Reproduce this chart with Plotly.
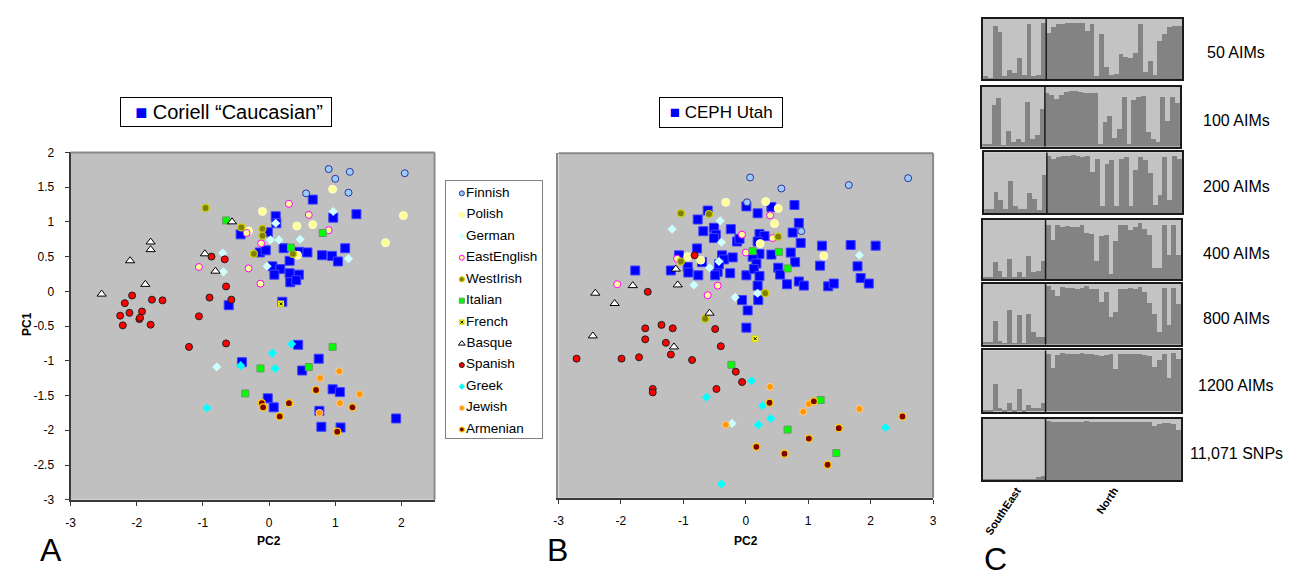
import plotly.graph_objects as go

W, H = 1309, 577

# ---------------------------------------------------------------- data
groups = ["Finnish", "Polish", "German", "EastEnglish", "WestIrish", "Italian",
          "French", "Basque", "Spanish", "Greek", "Jewish", "Armenian"]

# Panel A: Coriell "Caucasian" samples projected with reference groups (PC2, PC1)
coriell_a = [(-0.43, 0.82), (-0.14, 0.56), (-0.61, -0.20), (0.66, 1.32), (0.10, 1.08),
             (0.97, 1.06), (1.32, 1.11), (0.11, 0.98), (-0.02, 0.85), (-0.05, 0.59),
             (0.22, 0.62), (0.45, 0.57), (0.58, 0.56), (0.80, 0.52), (0.95, 0.51),
             (1.04, 0.43), (1.15, 0.62), (0.31, 0.44), (0.05, 0.36), (0.17, 0.32),
             (0.08, 0.24), (0.31, 0.26), (0.45, 0.24), (0.32, 0.13), (0.41, 0.16),
             (0.20, -0.15), (0.44, -0.77), (0.75, -0.97), (0.50, -1.14), (0.96, -1.41),
             (1.07, -1.45), (-0.02, -1.54), (0.07, -1.67), (0.76, -1.72), (0.79, -1.95),
             (1.08, -1.96), (1.92, -1.83), (-0.41, -1.02)]
finnish_a = [(0.90, 1.76), (1.22, 1.72), (1.00, 1.62), (2.05, 1.70), (0.56, 1.41), (1.20, 1.42)]
polish_a = [(0.96, 1.47), (2.03, 1.09), (1.76, 0.70), (-0.10, 1.15), (0.42, 0.94),
            (0.66, 0.96), (0.43, 0.52), (-0.31, 0.87)]
german_a = [(0.97, 1.15), (0.10, 0.98), (0.02, 0.74), (0.15, 0.74), (0.47, 0.75),
            (1.20, 0.47), (-0.03, 0.36), (-0.70, 0.55), (-0.69, 0.28), (-0.79, -1.09)]
eastenglish_a = [(0.30, 1.26), (0.60, 1.10), (0.90, 0.88), (-0.12, 0.69), (-0.13, 0.11),
                 (-0.34, 0.84), (-1.06, 0.35), (-0.31, 0.33)]
westirish_a = [(-0.96, 1.20), (-0.42, 0.92), (-0.10, 0.90), (-0.10, 0.80), (-0.23, 0.54), (0.36, 0.54)]
italian_a = [(-0.65, 1.02), (0.81, 0.84), (0.33, 0.63), (0.96, -0.80), (0.60, -1.09),
             (-0.13, -1.11), (-0.36, -1.47)]
french_a = [(0.18, -0.18)]
basque_a = [(-0.56, 1.00), (-1.79, 0.71), (-1.79, 0.60), (-2.10, 0.44), (-0.97, 0.54),
            (-0.81, 0.29), (-1.87, 0.10), (-2.53, -0.04)]
spanish_a = [(-0.87, 0.50), (-0.67, 0.46), (-0.65, 0.07), (-0.57, -0.12), (-0.90, -0.09),
             (-1.06, -0.36), (-2.07, -0.06), (-2.18, -0.17), (-1.77, -0.12), (-1.61, -0.13),
             (-2.25, -0.35), (-2.11, -0.31), (-1.92, -0.29), (-1.96, -0.40), (-1.95, -0.38),
             (-2.21, -0.49), (-1.79, -0.48), (-1.21, -0.80), (-0.65, -0.75)]
greek_a = [(-0.43, -1.07), (-0.94, -1.68), (0.34, -0.76), (0.05, -0.89), (0.09, -1.11)]
jewish_a = [(1.06, -1.15), (0.77, -1.25), (1.37, -1.48), (1.07, -1.61), (0.76, -1.75)]
armenian_a = [(0.71, -1.42), (0.30, -1.61), (-0.11, -1.61), (-0.09, -1.67), (0.16, -1.80),
              (1.26, -1.67), (1.03, -2.02)]

# Panel B: CEPH Utah samples projected with the same reference groups
cephutah_b = [(-0.61, 1.17), (-0.77, 1.04), (-0.68, 0.87), (-0.51, 0.92), (-0.48, 0.82),
              (-0.51, 0.77), (-0.24, 0.90), (-0.14, 0.72), (-0.10, 0.76), (0.01, 1.23),
              (-0.78, 0.62), (-1.07, 0.52), (-0.70, 0.42), (-0.38, 0.52), (-0.35, 0.46),
              (-0.21, 0.49), (-0.93, 0.35), (-0.92, 0.27), (-0.76, 0.23), (-0.45, 0.28),
              (-0.49, 0.23), (-0.25, 0.26), (0.01, 0.23), (-1.77, 0.30), (-1.20, 0.30),
              (-0.06, -0.13), (0.03, -0.28), (0.01, -0.53), (-0.43, 0.39), (0.41, 1.22),
              (0.78, 1.25), (0.19, 1.13), (0.85, 0.99), (0.75, 0.85), (0.22, 0.83),
              (0.30, 0.80), (0.19, 0.72), (0.88, 0.70), (1.22, 0.66), (1.68, 0.67),
              (2.08, 0.66), (0.22, 0.54), (0.41, 0.53), (0.72, 0.56), (0.11, 0.50),
              (0.17, 0.40), (0.79, 0.42), (1.19, 0.37), (1.79, 0.36), (0.13, 0.32),
              (0.52, 0.34), (0.22, 0.22), (0.55, 0.24), (1.84, 0.19), (1.97, 0.11),
              (0.66, 0.10), (0.85, 0.14), (0.93, 0.08), (1.32, 0.07), (1.41, 0.11),
              (0.19, 0.08), (0.20, -0.13)]
finnish_b = [(0.07, 1.65), (0.57, 1.49), (1.65, 1.54), (2.60, 1.64), (0.02, 1.29), (0.89, 0.87)]
polish_b = [(-0.32, 1.29), (-0.93, 0.50), (-0.72, 0.45), (0.32, 1.30), (0.52, 1.20),
            (0.46, 0.98), (0.23, 0.69), (1.25, 0.51)]
german_b = [(-0.41, 1.02), (-1.18, 0.90), (-0.39, 0.71), (-0.58, 0.34), (-0.43, 0.43),
            (-0.83, 0.09), (-0.17, -0.09), (1.82, 0.52), (0.19, -0.03), (-0.22, -1.92)]
eastenglish_b = [(-0.06, 0.82), (0.00, 0.56), (-1.10, 0.47), (-2.06, 0.10), (-0.45, 0.08),
                 (-0.61, -0.06), (0.39, 1.10), (0.43, 0.77)]
westirish_b = [(-1.04, 1.13), (-0.59, 1.12), (-1.04, 0.43), (-0.65, -0.40), (0.52, 0.79), (0.31, -0.03)]
italian_b = [(0.11, 0.58), (0.53, 0.57), (0.67, 0.33), (-0.23, -1.07), (1.20, -1.58),
             (0.67, -2.01), (1.45, -2.35)]
french_b = [(0.15, -0.69)]
basque_b = [(-1.12, 0.32), (-1.81, 0.08), (-1.09, 0.09), (-2.41, -0.03), (-2.10, -0.18),
            (-0.58, -0.32), (-2.45, -0.65), (-1.15, -0.81)]
spanish_b = [(-0.82, 0.52), (-1.57, -0.01), (-1.61, -0.54), (-1.35, -0.49), (-1.17, -0.54),
             (-0.49, -0.55), (-1.61, -0.70), (-1.28, -0.75), (-0.40, -0.80), (-1.20, -0.92),
             (-2.71, -0.98), (-1.99, -0.98), (-1.71, -0.96), (-0.86, -1.00), (-0.16, -1.17),
             (-0.06, -1.32), (-1.49, -1.42), (-1.49, -1.47), (-0.47, -1.42)]
greek_b = [(-0.63, -1.54), (-0.39, -2.80), (0.09, -1.30), (0.27, -1.66), (0.40, -1.85),
           (0.20, -1.94), (2.24, -1.98)]
jewish_b = [(-0.32, -1.94), (0.39, -1.39), (1.01, -1.64), (0.92, -1.75), (1.82, -1.71)]
armenian_b = [(0.38, -1.62), (1.09, -1.60), (2.51, -1.82), (1.49, -1.99), (1.01, -2.14),
              (0.17, -2.26), (0.62, -2.36), (1.31, -2.52)]

# Panel C: STRUCTURE membership in the "North" cluster per individual
c_labels = ["50 AIMs", "100 AIMs", "200 AIMs", "400 AIMs", "800 AIMs", "1200 AIMs", "11,071 SNPs"]
c_groups = ["SouthEast", "North"]
southeast_q = [
    [0.05, 0.03, 0.89, 0.79, 0.05, 0.16, 0.11, 0.36, 0.08, 0.91, 0.05, 0.08, 0.93],
    [0.04, 0.04, 0.70, 0.81, 0.02, 0.26, 0.07, 0.13, 0.07, 0.74, 0.12, 0.19, 0.63],
    [0.05, 0.05, 0.34, 0.20, 0.05, 0.52, 0.10, 0.05, 0.05, 0.32, 0.23, 0.04, 0.62],
    [0.04, 0.04, 0.29, 0.15, 0.04, 0.35, 0.04, 0.13, 0.04, 0.40, 0.12, 0.15, 0.31],
    [0.04, 0.04, 0.39, 0.06, 0.03, 0.57, 0.03, 0.48, 0.03, 0.50, 0.20, 0.13, 0.13],
    [0.03, 0.03, 0.44, 0.06, 0.03, 0.14, 0.03, 0.37, 0.03, 0.10, 0.05, 0.06, 0.14],
    [0.02, 0.03, 0.02, 0.02, 0.02, 0.02, 0.02, 0.02, 0.02, 0.02, 0.02, 0.06, 0.08],
]
north_q = [
    [0.77, 0.86, 0.91, 0.92, 0.93, 0.93, 0.94, 0.93, 0.80, 0.92, 0.05, 0.75, 0.20, 0.08,
     0.09, 0.42, 0.38, 0.36, 0.44, 0.91, 0.12, 0.31, 0.08, 0.63, 0.76, 0.86, 0.88, 0.89],
    [0.90, 0.87, 0.80, 0.87, 0.91, 0.93, 0.93, 0.91, 0.90, 0.90, 0.90, 0.04, 0.41, 0.51,
     0.15, 0.30, 0.83, 0.04, 0.78, 0.83, 0.85, 0.24, 0.12, 0.08, 0.83, 0.43, 0.83, 0.73],
    [0.94, 0.88, 0.91, 0.93, 0.93, 0.95, 0.93, 0.91, 0.93, 0.67, 0.88, 0.11, 0.80, 0.86,
     0.11, 0.88, 0.91, 0.11, 0.70, 0.92, 0.86, 0.65, 0.12, 0.29, 0.92, 0.20, 0.93, 0.88],
    [0.92, 0.67, 0.92, 0.89, 0.90, 0.89, 0.89, 0.92, 0.78, 0.77, 0.31, 0.73, 0.74, 0.09,
     0.64, 0.92, 0.92, 0.84, 0.89, 0.95, 0.85, 0.74, 0.20, 0.20, 0.92, 0.42, 0.92, 0.42],
    [0.97, 0.90, 0.80, 0.95, 0.93, 0.93, 0.92, 0.93, 0.97, 0.92, 0.92, 0.71, 0.87, 0.46,
     0.53, 0.92, 0.92, 0.93, 0.92, 0.95, 0.87, 0.68, 0.50, 0.20, 0.93, 0.33, 0.93, 0.67],
    [0.93, 0.71, 0.92, 0.95, 0.94, 0.94, 0.94, 0.95, 0.94, 0.93, 0.92, 0.90, 0.92, 0.93,
     0.69, 0.94, 0.94, 0.93, 0.94, 0.94, 0.92, 0.90, 0.72, 0.83, 0.94, 0.55, 0.95, 0.85],
    [0.96, 0.95, 0.95, 0.95, 0.95, 0.95, 0.95, 0.95, 0.96, 0.95, 0.95, 0.95, 0.95, 0.95,
     0.95, 0.95, 0.95, 0.95, 0.95, 0.95, 0.95, 0.95, 0.88, 0.92, 0.93, 0.94, 0.92, 0.82],
]

# ---------------------------------------------------------------- styles
FONT = "Liberation Sans, Arial, sans-serif"
PLOT_BG = "#c0c0c0"
DARK_Q = "#838383"
LIGHT_Q = "#c3c3c3"

STYLE = {
    "Finnish":     dict(symbol="circle", size=7, color="#99ccff", line=dict(color="#333399", width=1)),
    "Polish":      dict(symbol="circle", size=8, color="#ffff99", line=dict(color="#ffffcc", width=1)),
    "German":      dict(symbol="diamond", size=7, color="#ccffff", line=dict(width=0)),
    "EastEnglish": dict(symbol="circle", size=7, color="#ffff99", line=dict(color="#ff00ff", width=1)),
    "WestIrish":   dict(symbol="circle", size=7, color="#808000", line=dict(color="#cccc00", width=1.2)),
    "Italian":     dict(symbol="square", size=7, color="#00ff00", line=dict(color="#669966", width=1)),
    "French":      dict(symbol="square", size=6, color="#ffff00", line=dict(color="#cccc00", width=0.5)),
    "Basque":      dict(symbol="triangle-up", size=8, color="#ffffff", line=dict(color="#000000", width=1)),
    "Spanish":     dict(symbol="circle", size=7, color="#ff0000", line=dict(color="#202020", width=1)),
    "Greek":       dict(symbol="diamond", size=7, color="#00ffff", line=dict(width=0)),
    "Jewish":      dict(symbol="circle", size=7, color="#ff9900", line=dict(color="#ffcc99", width=1)),
    "Armenian":    dict(symbol="circle", size=7, color="#800000", line=dict(color="#ffcc00", width=1.2)),
}
SAMPLE_STYLE = dict(symbol="square", size=9, color="#0000ff", line=dict(color="#4040ff", width=1))

panel_a = dict(zip(groups, [finnish_a, polish_a, german_a, eastenglish_a, westirish_a, italian_a,
                            french_a, basque_a, spanish_a, greek_a, jewish_a, armenian_a]))
panel_b = dict(zip(groups, [finnish_b, polish_b, german_b, eastenglish_b, westirish_b, italian_b,
                            french_b, basque_b, spanish_b, greek_b, jewish_b, armenian_b]))


def px_x(px):
    return px / W


def px_y(py):
    return 1 - py / H


def label(text, x, y, size, angle=0, **extra):
    d = dict(text=text, xref="paper", yref="paper", x=px_x(x), y=px_y(y), xanchor="center",
             yanchor="middle", showarrow=False, textangle=angle,
             font=dict(family=FONT, size=size, color="#000000"))
    d.update(extra)
    return d


def scatter(points, style, xa, ya, name):
    xs = [p[0] for p in points]
    ys = [p[1] for p in points]
    return go.Scatter(x=xs, y=ys, mode="markers", name=name, marker=style,
                      xaxis=xa, yaxis=ya, showlegend=False, hoverinfo="x+y+name")


def french_cross(xs, ys, xa, ya):
    return go.Scatter(x=xs, y=ys, mode="markers",
                      marker=dict(symbol="x-thin", size=3, line=dict(color="#000000", width=1)),
                      xaxis=xa, yaxis=ya, showlegend=False, hoverinfo="skip")


fig = go.Figure()

# PCA panels: sample squares drawn first, reference groups on top
for pts_samples, pts_groups, xa, ya, sname in [
        (coriell_a, panel_a, "x", "y", "Coriell \u201cCaucasian\u201d"),
        (cephutah_b, panel_b, "x2", "y2", "CEPH Utah")]:
    fig.add_trace(scatter(pts_samples, SAMPLE_STYLE, xa, ya, sname))
    for g in groups:
        fig.add_trace(scatter(pts_groups[g], STYLE[g], xa, ya, g))
        if g == "French":
            pts = pts_groups[g]
            fig.add_trace(french_cross([p[0] for p in pts], [p[1] for p in pts], xa, ya))

# group key (panel A): one row per group, key axis measured in pixels
for i, g in enumerate(groups):
    st = dict(STYLE[g])
    st["size"] = max(5, st["size"] - 2)
    fig.add_trace(go.Scatter(x=[0], y=[i], mode="markers+text", marker=st, text=[g],
                             textposition="middle right", cliponaxis=False,
                             textfont=dict(family=FONT, size=13.5, color="#000000"),
                             xaxis="x3", yaxis="y3", showlegend=False, hoverinfo="skip"))
    if g == "French":
        fig.add_trace(french_cross([0], [i], "x3", "y3"))

# STRUCTURE bar plots
n_se = len(southeast_q[0])
box_px = [(985, 1185, 12, 74), (984, 1183, 82, 143), (986, 1185, 149, 211),
          (984.5, 1184, 218, 279), (984.5, 1184, 284, 346), (984.5, 1184, 352, 415),
          (984.5, 1184, 422, 485)]
layout_axes = {}
shapes = []
annotations = []
for k, (se, no) in enumerate(zip(southeast_q, north_q)):
    q = se + no
    idx = list(range(len(q)))
    n = k + 4
    xa, ya = f"x{n}", f"y{n}"
    fig.add_trace(go.Bar(x=idx, y=q, marker=dict(color=DARK_Q, line=dict(width=0)), width=1,
                         xaxis=xa, yaxis=ya, showlegend=False, hoverinfo="y"))
    fig.add_trace(go.Bar(x=idx, y=[1 - v for v in q], marker=dict(color=LIGHT_Q, line=dict(width=0)),
                         width=1, xaxis=xa, yaxis=ya, showlegend=False, hoverinfo="skip"))
    x0, x1, y0, y1 = box_px[k]
    layout_axes[f"xaxis{n}"] = dict(domain=[px_x(x0), px_x(x1)], range=[-0.5, len(q) - 0.5],
                                    anchor=ya, showticklabels=False, ticks="", showgrid=False,
                                    zeroline=False, showline=True, mirror=True,
                                    linecolor="#1a1a1a", linewidth=2, fixedrange=True)
    layout_axes[f"yaxis{n}"] = dict(domain=[px_y(y1), px_y(y0)], range=[0, 1], anchor=xa,
                                    showticklabels=False, ticks="", showgrid=False, zeroline=False,
                                    showline=True, mirror=True, linecolor="#1a1a1a", linewidth=2,
                                    fixedrange=True)
    shapes.append(dict(type="line", xref=xa, yref=f"{ya} domain", x0=n_se - 0.5, x1=n_se - 0.5,
                       y0=0, y1=1, line=dict(color="#1a1a1a", width=1.5), layer="above"))
    annotations.append(label(c_labels[k], 1240, (y0 + y1) / 2 + 4, 16))

# group names under the bottom bar plot
annotations.append(label("<b>" + c_groups[0] + "</b>", 1005, 517, 11, angle=-56))
annotations.append(label("<b>" + c_groups[1] + "</b>", 1110, 505, 11, angle=-56))

# PCA axes
tick_font = dict(family=FONT, size=12, color="#000000")
ya_vals = [v / 2 for v in range(-6, 5)]
xa_vals = list(range(-3, 3))
xb_vals = list(range(-3, 4))
common = dict(showgrid=False, zeroline=False, showline=True, linecolor="#3a3a3a", linewidth=2,
              ticks="outside", ticklen=4, tickwidth=1, tickcolor="#3a3a3a", tickfont=tick_font,
              fixedrange=True)
layout_axes["xaxis"] = dict(common, domain=[px_x(66), px_x(432.5)], range=[-3, 2.5], anchor="y",
                            tickvals=xa_vals, ticktext=[f"{v:g}" for v in xa_vals],
                            ticklabelstandoff=7)
layout_axes["yaxis"] = dict(common, domain=[px_y(505), px_y(149)], range=[-3, 2], anchor="x",
                            tickvals=ya_vals, ticktext=[f"{v:g}" for v in ya_vals],
                            ticklabelstandoff=8)
layout_axes["xaxis2"] = dict(common, domain=[px_x(557.3), px_x(934.5)], range=[-3, 3], anchor="y2",
                             tickvals=xb_vals, ticktext=[f"{v:g}" for v in xb_vals],
                             ticklabelstandoff=7)
layout_axes["yaxis2"] = dict(domain=[px_y(503), px_y(150)], range=[-3, 2], anchor="x2",
                             showticklabels=False, ticks="", showgrid=False, zeroline=False,
                             showline=True, linecolor="#8a8a8a", linewidth=2, fixedrange=True)
# key axes in pixel units: x=0 at the marker column, rows 22 px apart
key_x0, key_x1, key_y0, key_y1 = 444, 541, 178, 442
layout_axes["xaxis3"] = dict(domain=[px_x(key_x0), px_x(key_x1)], range=[-16, key_x1 - key_x0 - 16],
                             anchor="y3", showticklabels=False, ticks="", showgrid=False,
                             zeroline=False, showline=True, mirror=True, linecolor="#808080",
                             linewidth=1, fixedrange=True)
layout_axes["yaxis3"] = dict(domain=[px_y(key_y1), px_y(key_y0)],
                             range=[-13 / 22 + (key_y1 - key_y0) / 22, -13 / 22], anchor="x3",
                             showticklabels=False, ticks="", showgrid=False, zeroline=False,
                             showline=True, mirror=True, linecolor="#808080", linewidth=1,
                             fixedrange=True)

# white background of the group key
shapes.append(dict(type="rect", xref="x3 domain", yref="y3 domain", x0=0, x1=1, y0=0, y1=1,
                   fillcolor="#ffffff", line=dict(width=0), layer="below"))

# light grey top/right frame of the PCA plot areas
for xa, ya in [("x", "y"), ("x2", "y2")]:
    shapes.append(dict(type="line", xref=f"{xa} domain", yref=f"{ya} domain", x0=0, x1=1, y0=1, y1=1,
                       line=dict(color="#8a8a8a", width=2), layer="above"))
    shapes.append(dict(type="line", xref=f"{xa} domain", yref=f"{ya} domain", x0=1, x1=1, y0=0, y1=1,
                       line=dict(color="#8a8a8a", width=2), layer="above"))

# axis titles
annotations += [
    label("<b>PC1</b>", 22, 325, 12, angle=-90),
    label("<b>PC2</b>", 266, 547, 12),
    label("<b>PC2</b>", 746, 547, 12),
]

# sample-set captions
sq = "\u00a0<span style='color:#0000ff'>\u25a0</span> "
annotations += [
    label("\u00a0" + sq + "Coriell \u201cCaucasian\u201d\u00a0", 223, 108, 20, bordercolor="#000000",
          borderwidth=1, borderpad=3, bgcolor="#ffffff"),
    label(sq + "CEPH Utah\u00a0", 721, 108, 17, bordercolor="#000000", borderwidth=1, borderpad=5,
          bgcolor="#ffffff"),
]

# panel letters
for letter, lx, ly in [("A", 46, 557), ("B", 556, 557), ("C", 997, 566)]:
    annotations.append(label(letter, lx, ly, 32))

fig.update_layout(
    width=W, height=H, margin=dict(l=0, r=0, t=0, b=0, pad=0),
    paper_bgcolor="#ffffff", plot_bgcolor=PLOT_BG,
    barmode="stack", bargap=0, showlegend=False,
    shapes=shapes, annotations=annotations, **layout_axes,
)

fig.write_html("out.html")
